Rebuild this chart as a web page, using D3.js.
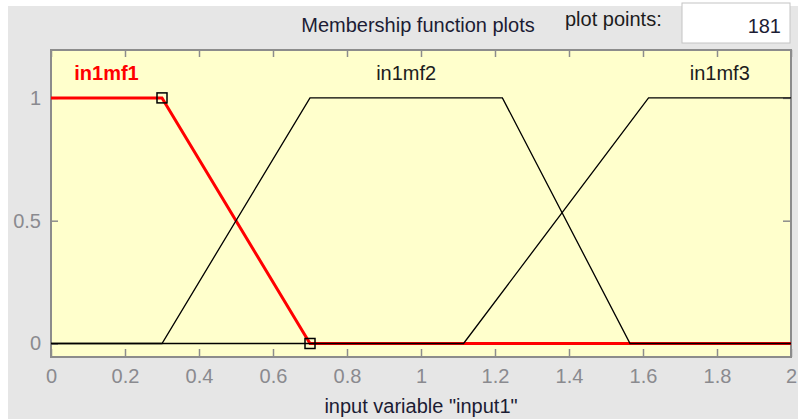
<!DOCTYPE html>
<html>
<head>
<meta charset="utf-8">
<script src="https://cdn.jsdelivr.net/npm/d3@7"></script>
<style>
  body { margin: 0; background: #fff; }
  text { font-family: "Liberation Sans", Arial, sans-serif; }
</style>
</head>
<body>
<svg id="mfPlot"></svg>
<script>
// membership function vertices (input range 0..2)
var mfNames = ["in1mf1", "in1mf2", "in1mf3"];
var mf1X = [0, 0.3, 0.7, 2];
var mf1Y = [1, 1, 0, 0];
var mf2X = [0, 0.3, 0.7, 1.22, 1.565, 2];
var mf2Y = [0, 0, 1, 1, 0, 0];
var mf3X = [0, 1.115, 1.615, 2];
var mf3Y = [0, 0, 1, 1];
var xTicks = [0, 0.2, 0.4, 0.6, 0.8, 1, 1.2, 1.4, 1.6, 1.8, 2];
var yTicks = [0, 0.5, 1];
var plotPoints = 181;
var selected = 0; // in1mf1 is highlighted

var width = 803, height = 419;
var svg = d3.select("#mfPlot").attr("width", width).attr("height", height);

// grey panel
svg.append("rect").attr("x", 8).attr("y", 6)
  .attr("width", 790).attr("height", 413).attr("fill", "#e6e6e6");

// title + plot points box
svg.append("text").attr("x", 418).attr("y", 32)
  .attr("text-anchor", "middle").attr("font-size", 20).attr("fill", "#1c1c34")
  .text("Membership function plots");
svg.append("text").attr("x", 565).attr("y", 26)
  .attr("font-size", 20).attr("fill", "#1c1c1c").text("plot points:");
svg.append("rect").attr("x", 682).attr("y", 3).attr("width", 108).attr("height", 40)
  .attr("fill", "#fff").attr("stroke", "#c4c4c4");
svg.append("text").attr("x", 781).attr("y", 33).attr("text-anchor", "end")
  .attr("font-size", 20).attr("fill", "#1c1c34").text(plotPoints);

var pLeft = 51, pRight = 791, pTop = 50, pBottom = 357;
var x = d3.scaleLinear().domain([0, 2]).range([pLeft, pRight]);
var y = d3.scaleLinear().domain([-0.055, 1.195]).range([pBottom, pTop]);

svg.append("rect").attr("x", pLeft).attr("y", pTop)
  .attr("width", pRight - pLeft).attr("height", pBottom - pTop).attr("fill", "#ffffcc");

// axes, ticks pointing inward like the matlab gui
var axisColor = "#8c8c8c";
function styleAxis(g) {
  g.select(".domain").remove();
  g.selectAll(".tick line").attr("stroke", axisColor).attr("stroke-width", 1.5);
  g.selectAll(".tick text").attr("fill", "#8a8a8f").attr("font-size", 20)
    .attr("font-family", "Liberation Sans, Arial, sans-serif");
}
svg.append("g").attr("transform", "translate(0," + pBottom + ")")
  .call(d3.axisBottom(x).tickValues(xTicks).tickSizeInner(-8).tickSizeOuter(0)
    .tickPadding(12).tickFormat(d3.format("")))
  .call(styleAxis);
svg.append("g").attr("transform", "translate(0," + pTop + ")")
  .call(d3.axisTop(x).tickValues(xTicks).tickSizeInner(-7).tickSizeOuter(0).tickFormat(""))
  .call(styleAxis);
svg.append("g").attr("transform", "translate(" + pLeft + ",0)")
  .call(d3.axisLeft(y).tickValues(yTicks).tickSizeInner(-7).tickSizeOuter(0)
    .tickPadding(10).tickFormat(d3.format("")))
  .call(styleAxis);
svg.append("g").attr("transform", "translate(" + pRight + ",0)")
  .call(d3.axisRight(y).tickValues(yTicks).tickSizeInner(-8).tickSizeOuter(0).tickFormat(""))
  .call(styleAxis);

svg.append("rect").attr("x", pLeft).attr("y", pTop)
  .attr("width", pRight - pLeft).attr("height", pBottom - pTop)
  .attr("fill", "none").attr("stroke", axisColor).attr("stroke-width", 2);

// curves
var mfs = [
  d3.zip(mf1X, mf1Y),
  d3.zip(mf2X, mf2Y),
  d3.zip(mf3X, mf3Y)
];
var line = d3.line().x(d => x(d[0])).y(d => y(d[1]));
var order = [selected].concat(d3.range(mfs.length).filter(i => i !== selected));
svg.append("g").selectAll("path").data(order).enter().append("path")
  .attr("d", i => line(mfs[i]))
  .attr("fill", "none")
  .attr("stroke", i => i === selected ? "#ff0000" : "#000")
  .attr("stroke-width", i => i === selected ? 3 : 1.3);

// labels centred over the plateau of each function
svg.append("g").selectAll("text").data(mfs).enter().append("text")
  .attr("x", d => x(d3.mean(d.filter(p => p[1] === 1), p => p[0])))
  .attr("y", 80)
  .attr("text-anchor", "middle")
  .attr("font-size", 20)
  .attr("font-weight", (d, i) => i === selected ? "bold" : "normal")
  .attr("fill", (d, i) => i === selected ? "#ff0000" : "#1c1c1c")
  .text((d, i) => mfNames[i]);

// handles on the selected function's inner vertices
var handles = mfs[selected].slice(1, -1);
svg.append("g").selectAll("rect").data(handles).enter().append("rect")
  .attr("x", d => x(d[0]) - 5).attr("y", d => y(d[1]) - 5)
  .attr("width", 10).attr("height", 10)
  .attr("fill", "none").attr("stroke", "#000").attr("stroke-width", 1.5);

svg.append("text").attr("x", 421).attr("y", 413)
  .attr("text-anchor", "middle").attr("font-size", 20).attr("fill", "#1c1c34")
  .text('input variable "input1"');
</script>
</body>
</html>
